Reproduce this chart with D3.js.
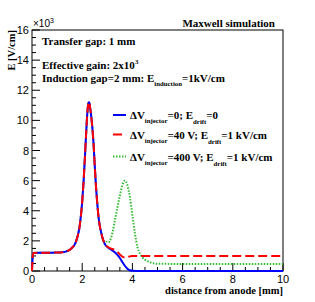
<!DOCTYPE html>
<html><head><meta charset="utf-8">
<script src="https://cdn.jsdelivr.net/npm/d3@7"></script>
<style>body{margin:0;background:#fff}svg{display:block}</style>
</head><body>
<script>
// ---- data ----
const commonX = [0,0.03,0.06,0.3,0.6,0.9,1.1,1.3,1.4,1.5,1.6,1.7,1.8,1.9,2.0,2.05,2.1,2.15,2.2,2.25,2.28,2.32,2.4,2.45,2.5,2.55,2.6,2.65,2.7,2.75,2.8,2.85,2.9];
const commonY = [0,1.0,1.2,1.21,1.21,1.22,1.23,1.27,1.32,1.4,1.55,1.75,2.2,3.0,4.6,5.8,7.3,8.9,10.4,11.15,11.2,10.8,9.6,8.5,7.0,5.6,4.5,3.6,3.0,2.6,2.25,2.0,1.8];
const blueX = [3.0,3.1,3.2,3.3,3.4,3.5,3.6,3.7,3.8,3.9,4.0,4.2,6,8,10];
const blueY = [1.6,1.47,1.37,1.24,1.07,0.86,0.6,0.35,0.15,0.05,0.01,0,0,0,0];
const redX = [3.0,3.1,3.2,3.3,3.4,3.5,3.6,3.7,3.8,3.9,4.0,4.5,6,8,10];
const redY = [1.62,1.52,1.46,1.4,1.28,1.1,0.95,0.9,0.92,0.97,1.0,1.0,1.0,1.0,1.0];
const greenX = [2.95,3.05,3.15,3.3,3.4,3.5,3.6,3.7,3.8,3.9,4.0,4.1,4.2,4.3,4.4,4.6,4.8,5.0,6,8,10];
const greenY = [1.95,1.9,2.2,3.35,4.2,5.0,5.7,6.0,5.7,4.9,3.7,2.5,1.6,1.15,0.9,0.65,0.53,0.48,0.47,0.47,0.47];
const xTicks = [0,2,4,6,8,10];
const yTicks = [0,2,4,6,8,10,12,14,16];

const W=315,H=302;
const L=32,R=283,T=30,B=271;
const svg=d3.select("body").append("svg").attr("width",W).attr("height",H);
svg.append("rect").attr("width",W).attr("height",H).attr("fill","#fff");
const x=d3.scaleLinear().domain([0,10]).range([L,R]);
const y=d3.scaleLinear().domain([0,16]).range([B,T]);

// frame
svg.append("rect").attr("x",L).attr("y",T).attr("width",R-L).attr("height",B-T)
  .attr("fill","none").attr("stroke","#000").attr("stroke-width",1);

// ticks
const minorX=d3.range(0,10.01,0.5), minorY=d3.range(0,16.01,0.5);
svg.append("g").selectAll("line").data(minorX).join("line")
  .attr("x1",d=>x(d)).attr("x2",d=>x(d)).attr("y1",B)
  .attr("y2",d=>B-(d%2===0?8:4)).attr("stroke","#000");
svg.append("g").selectAll("line").data(minorY).join("line")
  .attr("y1",d=>y(d)).attr("y2",d=>y(d)).attr("x1",L)
  .attr("x2",d=>L+(d%2===0?8:4)).attr("stroke","#000");
const tf="Liberation Sans, Arial, sans-serif";
svg.append("g").selectAll("text").data(xTicks).join("text")
  .attr("x",d=>x(d)).attr("y",B+12).attr("text-anchor","middle")
  .attr("font-family",tf).attr("font-size",11).text(d=>d);
svg.append("g").selectAll("text").data(yTicks).join("text")
  .attr("x",L-3).attr("y",d=>y(d)+4).attr("text-anchor","end")
  .attr("font-family",tf).attr("font-size",11).text(d=>d);
const e=svg.append("text").attr("x",L+1).attr("y",T-3).attr("font-family",tf).attr("font-size",10);
e.append("tspan").text("×10");
e.append("tspan").attr("dy",-4).attr("font-size",7).text("3");

const sf="Liberation Serif, Times New Roman, serif";
// titles
svg.append("text").attr("x",R).attr("y",294).attr("text-anchor","end")
  .attr("font-family",sf).attr("font-weight","bold").attr("font-size",10.5).text("distance from anode [mm]");
svg.append("text").attr("transform",`translate(15,${T}) rotate(-90)`).attr("text-anchor","end")
  .attr("font-family",sf).attr("font-weight","bold").attr("font-size",10.5).text("E [V/cm]");
svg.append("text").attr("x",275).attr("y",27).attr("text-anchor","end")
  .attr("font-family",sf).attr("font-weight","bold").attr("font-size",11).text("Maxwell simulation");

function rich(xp,yp,parts,fs){
  const t=svg.append("text").attr("x",xp).attr("y",yp).attr("font-family",sf)
    .attr("font-weight","bold").attr("font-size",fs);
  let level=0;
  parts.forEach(p=>{
    const target=p[1]; const s=t.append("tspan").text(p[0]);
    const dy = target-level; if(dy!==0) s.attr("dy",dy);
    if(target!==0) s.attr("font-size",fs*0.62);
    level=target;
  });
  return t;
}
rich(42,45,[["Transfer gap: 1 mm",0]],11);
rich(42,69,[["Effective gain: 2x10",0],["3",-5]],11);
rich(42,82,[["Induction gap=2 mm: E",0],["induction",4],["=1kV/cm",0]],11);

// curves
const line=d3.line().x(d=>x(d[0])).y(d=>y(d[1])).curve(d3.curveMonotoneX);
const zip=(a,b)=>a.map((v,i)=>[v,b[i]]);
const common=zip(commonX,commonY);
const series=[
  {pts:common.concat(zip(greenX,greenY)),color:"#33bb33",dash:"1.5,1.5"},
  {pts:common.concat(zip(blueX,blueY)),color:"#0000ff",dash:null},
  {pts:common.concat(zip(redX,redY)),color:"#ff0000",dash:"9,4"}
];
series.forEach(s=>{
  const p=svg.append("path").attr("d",line(s.pts)).attr("fill","none")
    .attr("stroke",s.color).attr("stroke-width",2);
  if(s.dash) p.attr("stroke-dasharray",s.dash);
});

// legend
const leg=[
  {y:115,color:"#0000ff",dash:null,parts:[["ΔV",0],["injector",4],["=0; E",0],["drift",5],["=0",0]]},
  {y:134.5,color:"#ff0000",dash:"9,4",parts:[["ΔV",0],["injector",4],["=40 V; E",0],["drift",5],["=1 kV/cm",0]]},
  {y:156.5,color:"#33bb33",dash:"1.5,1.5",parts:[["ΔV",0],["injector",4],["=400 V; E",0],["drift",5],["=1 kV/cm",0]]}
];
leg.forEach(l=>{
  const ln=svg.append("line").attr("x1",113).attr("x2",126).attr("y1",l.y).attr("y2",l.y)
    .attr("stroke",l.color).attr("stroke-width",2);
  if(l.dash) ln.attr("stroke-dasharray",l.dash);
  rich(130,l.y+4,l.parts,11);
});
</script>
</body></html>
